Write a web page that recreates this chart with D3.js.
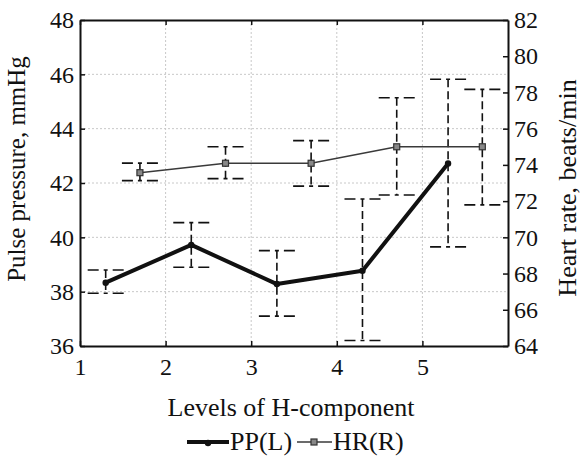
<!DOCTYPE html>
<html><head><meta charset="utf-8">
<script src="https://cdn.jsdelivr.net/npm/d3@7"></script>
<style>
html,body{margin:0;padding:0;background:#fff;}
text{font-family:"Liberation Serif","Times New Roman",serif;fill:#111;}
</style></head>
<body><svg id="c" width="583" height="463"></svg>
<script>
const xTicks = [1, 2, 3, 4, 5];
const leftTicks = [36, 38, 40, 42, 44, 46, 48];
const rightTicks = [64, 66, 68, 70, 72, 74, 76, 78, 80, 82];
const ppPos = [1.3, 2.3, 3.3, 4.3, 5.3];
const ppMean = [38.33, 39.72, 38.28, 38.77, 42.72];
const ppUpper = [38.8, 40.54, 39.51, 41.41, 45.82];
const ppLower = [37.94, 38.9, 37.1, 36.2, 39.65];
const hrPos = [1.7, 2.7, 3.7, 4.7, 5.7];
const hrMean = [73.57, 74.09, 74.09, 75.0, 75.0];
const hrUpper = [74.1, 75.0, 75.34, 77.71, 78.17];
const hrLower = [73.13, 73.24, 72.83, 72.34, 71.79];

const L = 80, R = 508, T = 20, B = 346;
const svg = d3.select("#c");
const x = d3.scaleLinear().domain([1, 6]).range([L, R]);
const yL = d3.scaleLinear().domain([36, 48]).range([B, T]);
const yR = d3.scaleLinear().domain([64, 82]).range([B, T]);

// grid
const g = svg.append("g");
g.selectAll("line.v").data(xTicks.filter(d => d > 1)).join("line")
  .attr("x1", d => x(d)).attr("x2", d => x(d)).attr("y1", T).attr("y2", B)
  .attr("stroke", "#c8c8c8").attr("stroke-dasharray", "2,2");
g.selectAll("line.h").data(leftTicks.filter(d => d > 36 && d < 48)).join("line")
  .attr("x1", L).attr("x2", R).attr("y1", d => yL(d)).attr("y2", d => yL(d))
  .attr("stroke", "#c8c8c8").attr("stroke-dasharray", "2,2");

// axes
const fs = "24px";
const ax = svg.append("g").attr("transform", `translate(0,${B})`)
  .call(d3.axisBottom(x).tickValues(xTicks).tickSizeInner(-5).tickSizeOuter(0).tickPadding(12).tickFormat(d3.format("d")));
const axT = svg.append("g").attr("transform", `translate(0,${T})`)
  .call(d3.axisTop(x).tickValues(xTicks).tickSizeInner(-5).tickSizeOuter(0).tickFormat(""));
const ayL = svg.append("g").attr("transform", `translate(${L},0)`)
  .call(d3.axisLeft(yL).tickValues(leftTicks).tickSizeInner(-5).tickSizeOuter(0).tickPadding(6));
const ayR = svg.append("g").attr("transform", `translate(${R},0)`)
  .call(d3.axisRight(yR).tickValues(rightTicks).tickSizeInner(-5).tickSizeOuter(0).tickPadding(6));
[ax, axT, ayL, ayR].forEach(a => {
  a.attr("font-family", null).attr("font-size", null);
  a.select(".domain").attr("stroke", "#111").attr("stroke-width", 2);
  a.selectAll(".tick line").attr("stroke", "#111").attr("stroke-width", 1.5);
  a.selectAll("text").style("font-size", fs).attr("fill", "#111");
});

// error bars
function errBars(pos, up, lo, scale) {
  const eg = svg.append("g");
  pos.forEach((p, i) => {
    const cx = x(p);
    eg.append("line").attr("x1", cx).attr("x2", cx).attr("y1", scale(up[i])).attr("y2", scale(lo[i]))
      .attr("stroke", "#111").attr("stroke-width", 1.6).attr("stroke-dasharray", "8,4");
    [up[i], lo[i]].forEach(v => {
      eg.append("line").attr("x1", cx - 18).attr("x2", cx + 18).attr("y1", scale(v)).attr("y2", scale(v))
        .attr("stroke", "#111").attr("stroke-width", 1.6).attr("stroke-dasharray", "11,5,4,5,11");
    });
  });
}
errBars(ppPos, ppUpper, ppLower, yL);
errBars(hrPos, hrUpper, hrLower, yR);

// HR line
const hrData = hrPos.map((p, i) => [p, hrMean[i]]);
svg.append("path").datum(hrData)
  .attr("d", d3.line().x(d => x(d[0])).y(d => yR(d[1])))
  .attr("fill", "none").attr("stroke", "#3a3a3a").attr("stroke-width", 1.6);
svg.selectAll("rect.hr").data(hrData).join("rect")
  .attr("x", d => x(d[0]) - 3).attr("y", d => yR(d[1]) - 3).attr("width", 6).attr("height", 6)
  .attr("fill", "#888").attr("stroke", "#333").attr("stroke-width", 1.2);

// PP line
const ppData = ppPos.map((p, i) => [p, ppMean[i]]);
svg.append("path").datum(ppData)
  .attr("d", d3.line().x(d => x(d[0])).y(d => yL(d[1])))
  .attr("fill", "none").attr("stroke", "#111").attr("stroke-width", 4).attr("stroke-linejoin", "round");
svg.selectAll("circle.pp").data(ppData).join("circle")
  .attr("cx", d => x(d[0])).attr("cy", d => yL(d[1])).attr("r", 3.2).attr("fill", "#111");

// titles
svg.append("text").attr("transform", "translate(25,169) rotate(-90)").attr("text-anchor", "middle")
  .style("font-size", "25px").text("Pulse pressure, mmHg");
svg.append("text").attr("transform", "translate(576,188) rotate(-90)").attr("text-anchor", "middle")
  .style("font-size", "26px").text("Heart rate, beats/min");
svg.append("text").attr("x", 291).attr("y", 416).attr("text-anchor", "middle")
  .style("font-size", "26px").text("Levels of H-component");

// legend
const lg = svg.append("g");
lg.append("line").attr("x1", 187).attr("x2", 229).attr("y1", 442).attr("y2", 442).attr("stroke", "#111").attr("stroke-width", 4);
lg.append("circle").attr("cx", 208).attr("cy", 443).attr("r", 3.2).attr("fill", "#111");
lg.append("text").attr("x", 230).attr("y", 450).style("font-size", "26px").text("PP(L)");
lg.append("line").attr("x1", 297).attr("x2", 332).attr("y1", 442).attr("y2", 442).attr("stroke", "#3a3a3a").attr("stroke-width", 1.6);
lg.append("rect").attr("x", 311).attr("y", 439).attr("width", 6).attr("height", 6).attr("fill", "#888").attr("stroke", "#333").attr("stroke-width", 1.2);
lg.append("text").attr("x", 333).attr("y", 450).style("font-size", "26px").text("HR(R)");
</script></body></html>
